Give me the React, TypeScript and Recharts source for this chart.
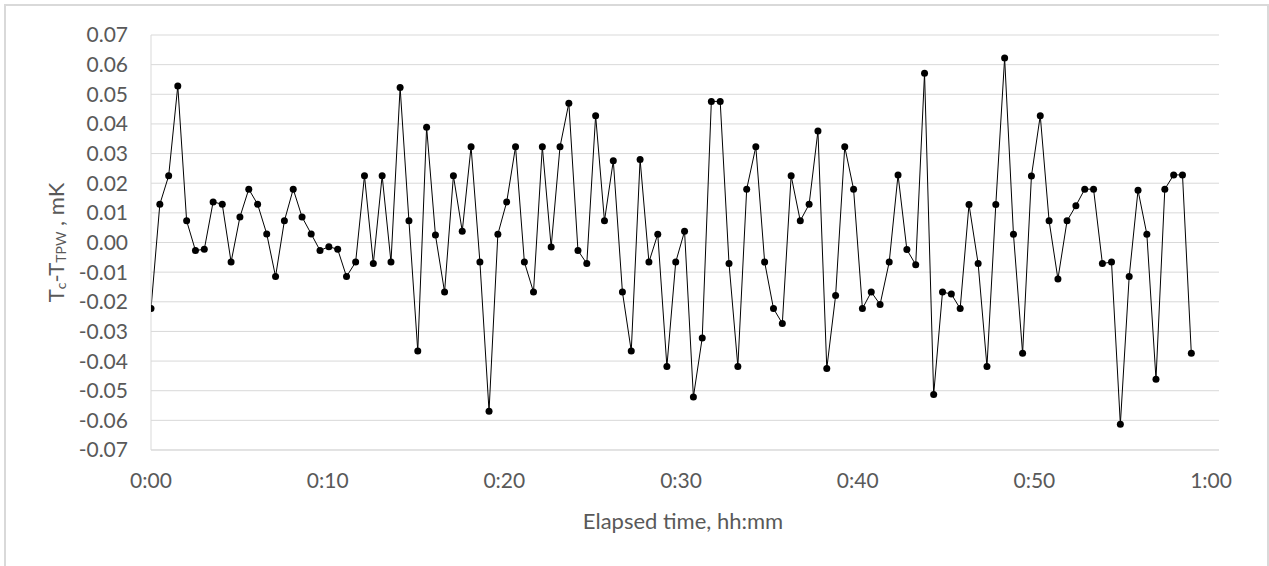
import React from "react";
import { LineChart, Line, XAxis, YAxis, CartesianGrid, Label } from "recharts";

// Elapsed time of each reading, seconds
const elapsedSeconds = [
  0, 30, 60, 91, 121, 151, 181, 211, 242, 272,
  302, 332, 362, 393, 423, 453, 483, 513, 544, 574,
  604, 634, 664, 695, 725, 755, 785, 815, 846, 876,
  906, 936, 966, 997, 1027, 1057, 1087, 1117, 1148, 1178,
  1208, 1238, 1268, 1299, 1329, 1359, 1389, 1419, 1450, 1480,
  1510, 1540, 1570, 1601, 1631, 1661, 1691, 1721, 1752, 1782,
  1812, 1842, 1872, 1903, 1933, 1963, 1993, 2023, 2054, 2084,
  2114, 2144, 2174, 2205, 2235, 2265, 2295, 2325, 2356, 2386,
  2416, 2446, 2476, 2507, 2537, 2567, 2597, 2627, 2658, 2688,
  2718, 2748, 2778, 2809, 2839, 2869, 2899, 2929, 2960, 2990,
  3020, 3050, 3080, 3111, 3141, 3171, 3201, 3231, 3262, 3292,
  3322, 3352, 3382, 3413, 3443, 3473, 3503, 3533,
];

// Tc - Ttpw, mK
const tempDiff = [
  -0.0223, 0.0129, 0.0225, 0.0528, 0.0073, -0.0027, -0.0023, 0.0137, 0.0129, -0.0066,
  0.0086, 0.018, 0.0129, 0.0029, -0.0115, 0.0073, 0.018, 0.0086, 0.0029, -0.0027,
  -0.0014, -0.0023, -0.0115, -0.0066, 0.0225, -0.0071, 0.0225, -0.0066, 0.0523, 0.0073,
  -0.0366, 0.0389, 0.0025, -0.0167, 0.0225, 0.0038, 0.0323, -0.0066, -0.0569, 0.0028,
  0.0137, 0.0323, -0.0066, -0.0167, 0.0323, -0.0015, 0.0323, 0.047, -0.0027, -0.0071,
  0.0428, 0.0073, 0.0276, -0.0167, -0.0366, 0.028, -0.0066, 0.0028, -0.0418, -0.0066,
  0.0038, -0.0521, -0.0322, 0.0476, 0.0476, -0.0071, -0.0418, 0.018, 0.0323, -0.0066,
  -0.0223, -0.0273, 0.0225, 0.0073, 0.0129, 0.0376, -0.0425, -0.0179, 0.0323, 0.018,
  -0.0223, -0.0167, -0.0209, -0.0066, 0.0228, -0.0024, -0.0075, 0.0571, -0.0513, -0.0167,
  -0.0174, -0.0223, 0.0128, -0.0071, -0.0418, 0.0128, 0.0622, 0.0028, -0.0374, 0.0224,
  0.0428, 0.0073, -0.0123, 0.0073, 0.0124, 0.018, 0.018, -0.0071, -0.0066, -0.0613,
  -0.0115, 0.0176, 0.0028, -0.0461, 0.018, 0.0228, 0.0228, -0.0374,
];

const xTicks = [0, 600, 1200, 1800, 2400, 3000, 3600];
const yTicks = [-0.07, -0.06, -0.05, -0.04, -0.03, -0.02, -0.01, 0, 0.01, 0.02, 0.03, 0.04, 0.05, 0.06, 0.07];
const xDomainMax = 3627;

const xTitle = "Elapsed time, hh:mm";

const data = elapsedSeconds.map((t, i) => ({ t, v: tempDiff[i] }));

const FONT = "Lato, 'Open Sans', sans-serif";
const TEXT = "#595959";
const GRID = "#d9d9d9";

const fmtTime = (s: number) => {
  const h = Math.floor(s / 3600);
  const m = Math.round((s % 3600) / 60);
  return `${h}:${String(m).padStart(2, "0")}`;
};

const YTitle = (props: any) => {
  const vb = props && props.viewBox ? props.viewBox : { x: 0, y: 35, width: 151, height: 415 };
  const cx = vb.x + 55;
  const cy = vb.y + vb.height / 2;
  return (
    <text
      x={cx}
      y={cy}
      transform={`rotate(-90, ${cx}, ${cy})`}
      textAnchor="middle"
      dominantBaseline="central"
      fill={TEXT}
      fontFamily={FONT}
      fontSize={22}
    >
      T
      <tspan fontSize={14} dy={5}>c</tspan>
      <tspan dy={-5}>-T</tspan>
      <tspan fontSize={14} dy={5}>TPW</tspan>
      <tspan dy={-5}> , mK</tspan>
    </text>
  );
};

const XTitle = (props: any) => {
  const vb = props && props.viewBox ? props.viewBox : { x: 151, y: 450, width: 1068, height: 116 };
  const cx = vb.x + vb.width / 2 - 2;
  const cy = vb.y + 70;
  return (
    <text x={cx} y={cy} textAnchor="middle" dominantBaseline="central" fill={TEXT} fontFamily={FONT} fontSize={22}>
      {xTitle}
    </text>
  );
};

export default function App() {
  return (
    <div style={{ position: "absolute", left: 0, top: 0, width: 1269, height: 566, overflow: "hidden", background: "#fff" }}>
      <div
        style={{
          position: "absolute",
          left: 4,
          top: 4,
          width: 1265,
          height: 700,
          boxSizing: "border-box",
          border: `2px solid ${GRID}`,
        }}
      />
      <div style={{ position: "absolute", left: 0, top: 0 }}>
        <LineChart width={1269} height={566} data={data} margin={{ top: 35, right: 50, bottom: 0, left: 0 }}>
          <CartesianGrid horizontal vertical={false} stroke={GRID} strokeWidth={1} />
          <XAxis
            type="number"
            dataKey="t"
            domain={[0, xDomainMax]}
            ticks={xTicks}
            tickFormatter={fmtTime}
            height={116}
            tickSize={0}
            tickMargin={23}
            axisLine={{ stroke: GRID }}
            tickLine={false}
            tick={{ fill: TEXT, fontFamily: FONT, fontSize: 21 }}
            interval={0}
            allowDataOverflow
          >
            <Label content={<XTitle />} />
          </XAxis>
          <YAxis
            type="number"
            domain={[-0.07, 0.07]}
            ticks={yTicks}
            tickFormatter={(v: number) => v.toFixed(2)}
            width={151}
            tickSize={0}
            tickMargin={23}
            axisLine={{ stroke: GRID }}
            tickLine={false}
            tick={{ fill: TEXT, fontFamily: FONT, fontSize: 21 }}
            interval={0}
            allowDataOverflow
          >
            <Label content={<YTitle />} />
          </YAxis>
          <Line
            type="linear"
            dataKey="v"
            stroke="#000"
            strokeWidth={1}
            dot={{ r: 3.5, fill: "#000", stroke: "none" }}
            activeDot={false}
            isAnimationActive={false}
          />
        </LineChart>
      </div>
    </div>
  );
}
